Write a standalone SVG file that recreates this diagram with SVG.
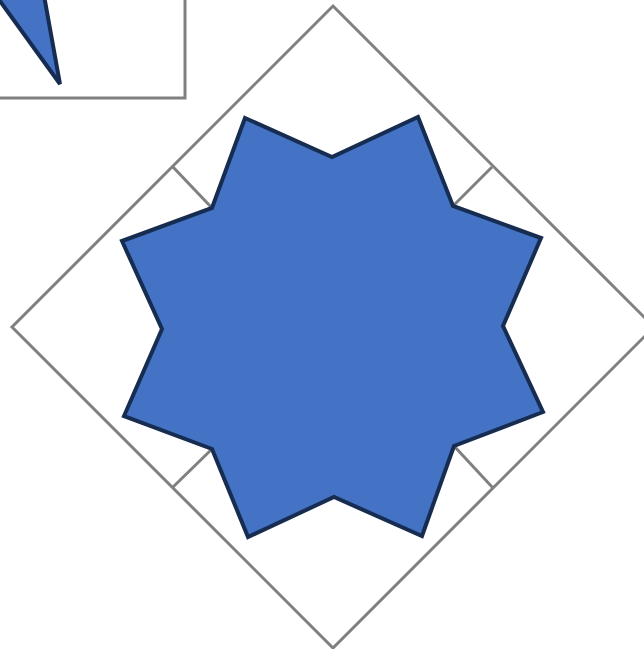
<svg xmlns="http://www.w3.org/2000/svg" width="644" height="649" viewBox="0 0 644 649">
<style>
.frame{fill:#fff;stroke:#808080;stroke-width:3}
.gl{stroke:#808080;stroke-width:3;fill:none}
.blue{fill:#4472C4;stroke:#172C51;stroke-width:4;stroke-linejoin:miter}
</style>
<rect width="644" height="649" fill="#fff"/>
<g id="box">
<rect class="frame" x="-20" y="-20" width="205" height="118"/>
<polygon class="blue" points="-8,-10 43,-10 60,84"/>
</g>
<g id="diamond">
<polygon class="frame" points="333,6 654,327 333,648 12,327"/>
</g>
<g id="connectors">
<line class="gl" x1="173" y1="167" x2="212" y2="208"/>
<line class="gl" x1="492" y1="167" x2="453" y2="206"/>
<line class="gl" x1="173" y1="487" x2="212" y2="449"/>
<line class="gl" x1="493" y1="488" x2="454" y2="446"/>
</g>
<g id="star">
<polygon class="blue" points="245,118 332,157 418,117 453,206 541,238 503,326 543,412 454,446 422,536 334,497 248,537 212,449 124,416 162,329 122,241 212,208"/>
</g>
</svg>
